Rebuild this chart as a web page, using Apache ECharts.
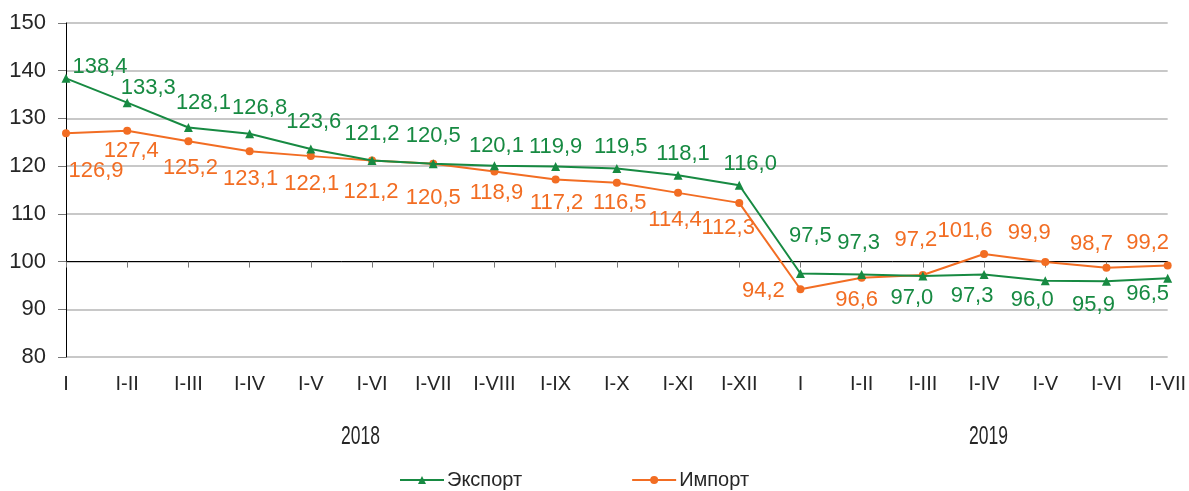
<!DOCTYPE html>
<html>
<head>
    <meta charset="utf-8">
    <title>Экспорт / Импорт</title>
    <script src="https://cdn.jsdelivr.net/npm/echarts@6/dist/echarts.min.js"></script>
    <style>
    *{margin:0; padding:0;}
    body{background:#fff;}
    #main{width:1189px; height:491px;}
    </style>
</head>
<body>
    <div id="main"></div>
    <script type="text/javascript">
        // categories: cumulative periods, 2018 (I..I-XII) and 2019 (I..I-VII)
        var periods = ['I','I-II','I-III','I-IV','I-V','I-VI','I-VII','I-VIII','I-IX','I-X','I-XI','I-XII',
                       'I','I-II','I-III','I-IV','I-V','I-VI','I-VII'];
        var exportVals = [138.4,133.3,128.1,126.8,123.6,121.2,120.5,120.1,119.9,119.5,118.1,116.0,
                          97.5,97.3,97.0,97.3,96.0,95.9,96.5];
        var importVals = [126.9,127.4,125.2,123.1,122.1,121.2,120.5,118.9,117.2,116.5,114.4,112.3,
                          94.2,96.6,97.2,101.6,99.9,98.7,99.2];
        var years = ['2018', '2019'];

        // label offsets from the marker (style only)
        var exportLabelOff = [[34,-11],[21,-15],[15,-25],[10,-26],[3,-27],[0,-26],[0,-28],[2,-20],[0,-20],[4,-22],[5,-21],[11,-21],
                              [10,-38],[-3,-32],[-11,22],[-12,21],[-13,19],[-13,24],[-20,16]];
        var importLabelOff = [[30,38],[4,20],[2,27],[1,28],[1,28],[-1,32],[0,34],[2,22],[1,23],[3,20],[-3,27],[-11,25],
                              [-37,2],[-5,22],[-7,-35],[-19,-23],[-16,-29],[-15,-24],[-20,-22]];

        var green = '#178a42', orange = '#f26d23';
        var font = 'Liberation Sans, Arial, sans-serif';
        var gridTop = 23, gridBottom = 134, yMin = 80, yMax = 150;
        var plotH = 491 - gridTop - gridBottom;
        var offset100 = -(100 - yMin) / (yMax - yMin) * plotH;

        function withLabels(vals, offs) {
            return vals.map(function (v, i) {
                return {value: v, label: {offset: offs[i]}};
            });
        }
        function fmt(p) { return p.value.toFixed(1).replace('.', ','); }

        var myChart = echarts.init(document.getElementById('main'));

        var option = {
            backgroundColor: '#fff',
            animation: false,
            grid: {left: 66, right: 21, top: gridTop, bottom: gridBottom},
            legend: {
                left: 394, top: 465,
                itemWidth: 44, itemHeight: 10, itemGap: 109,
                textStyle: {fontFamily: font, fontSize: 20, color: '#262626', padding: [0,0,0,-2]},
                data: ['Экспорт', 'Импорт']
            },
            xAxis: [{
                type: 'category',
                data: periods,
                boundaryGap: false,
                axisLine: {show: false},
                axisTick: {show: false},
                axisLabel: {fontFamily: font, fontSize: 20, color: '#262626', margin: 17, interval: 0}
            }, {
                type: 'category',
                data: periods,
                boundaryGap: false,
                position: 'bottom',
                offset: offset100,
                axisLine: {lineStyle: {color: '#000', width: 1}},
                axisTick: {show: true, inside: false, length: 6, lineStyle: {color: '#777'}, interval: 0},
                axisLabel: {show: false}
            }],
            yAxis: {
                type: 'value',
                min: yMin, max: yMax, interval: 10,
                axisLine: {show: true, lineStyle: {color: '#000', width: 1}},
                axisTick: {show: true, length: 8, lineStyle: {color: '#777'}},
                axisLabel: {fontFamily: font, fontSize: 22, color: '#262626', margin: 20},
                splitLine: {lineStyle: {color: '#c8c8c8', width: 2}}
            },
            graphic: [
                {type: 'text', x: 341, y: 425, scaleX: 0.7,
                 style: {text: years[0], font: '25px ' + font, fill: '#262626'}},
                {type: 'text', x: 969, y: 425, scaleX: 0.7,
                 style: {text: years[1], font: '25px ' + font, fill: '#262626'}}
            ],
            series: [{
                name: 'Экспорт',
                type: 'line',
                data: withLabels(exportVals, exportLabelOff),
                symbol: 'triangle',
                symbolSize: 9,
                lineStyle: {color: green, width: 2},
                itemStyle: {color: green},
                label: {
                    show: true, position: 'inside', align: 'center', verticalAlign: 'middle',
                    fontFamily: font, fontSize: 22, color: green, formatter: fmt
                },
                z: 3
            }, {
                name: 'Импорт',
                type: 'line',
                data: withLabels(importVals, importLabelOff),
                symbol: 'circle',
                symbolSize: 8,
                lineStyle: {color: orange, width: 2},
                itemStyle: {color: orange},
                label: {
                    show: true, position: 'inside', align: 'center', verticalAlign: 'middle',
                    fontFamily: font, fontSize: 22, color: orange, formatter: fmt
                },
                z: 2
            }]
        };

        myChart.setOption(option);
    </script>
</body>
</html>
